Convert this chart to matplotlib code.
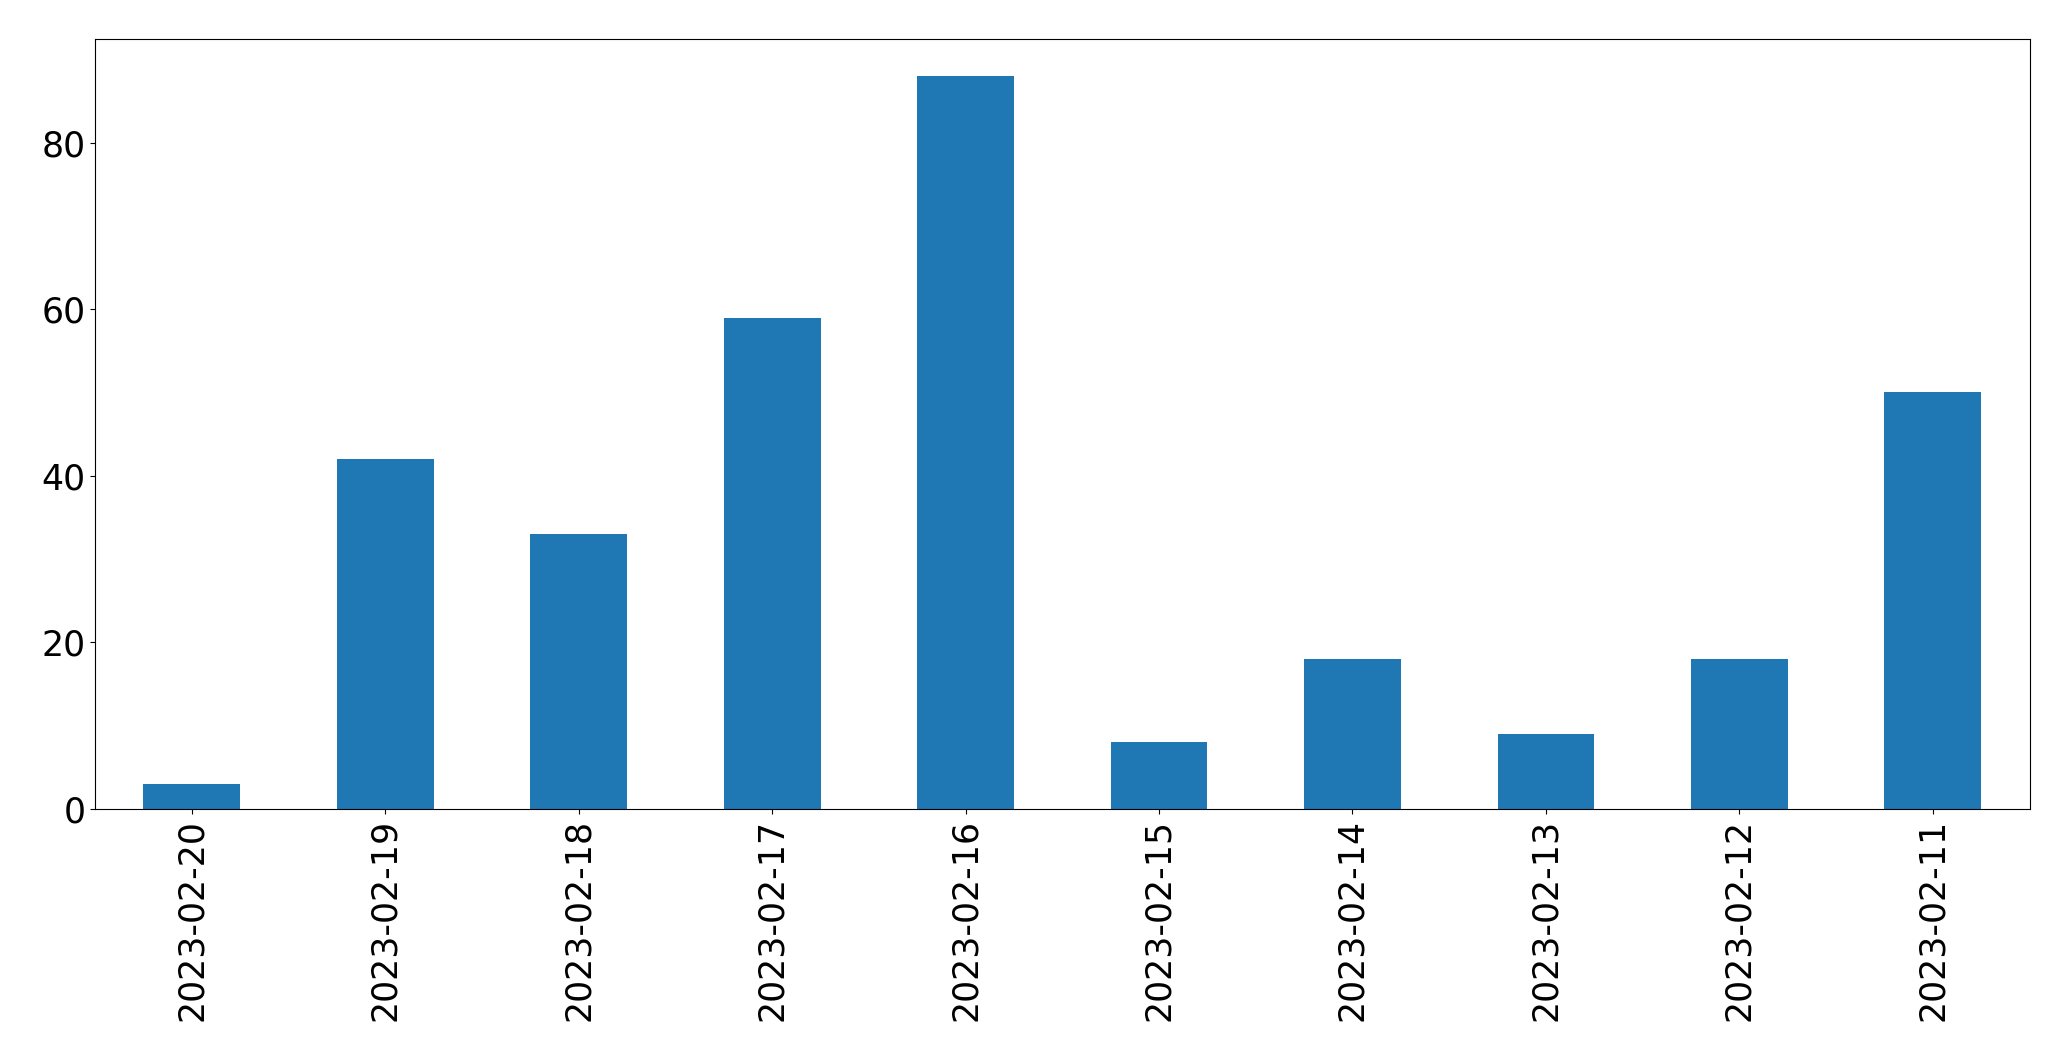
import matplotlib
matplotlib.use("Agg")
import matplotlib.pyplot as plt
import numpy as np

# daily counts, newest first
dates = ["2023-02-20", "2023-02-19", "2023-02-18", "2023-02-17", "2023-02-16",
         "2023-02-15", "2023-02-14", "2023-02-13", "2023-02-12", "2023-02-11"]
counts = [3, 42, 33, 59, 88, 8, 18, 9, 18, 50]

fig = plt.figure(figsize=(20.71, 10.61), dpi=100)
ax = fig.add_axes([0.0459, 0.2375, 0.9341, 0.7255])

x = np.arange(len(dates))
ax.bar(x, counts, width=0.5, color="#1f77b4")
ax.set_xlim(-0.5, len(dates) - 0.5)
ax.set_xticks(x)
ax.set_xticklabels(dates, rotation=90, fontsize=25)
ax.tick_params(axis="y", labelsize=25)

fig.savefig("out.png", dpi=100)
